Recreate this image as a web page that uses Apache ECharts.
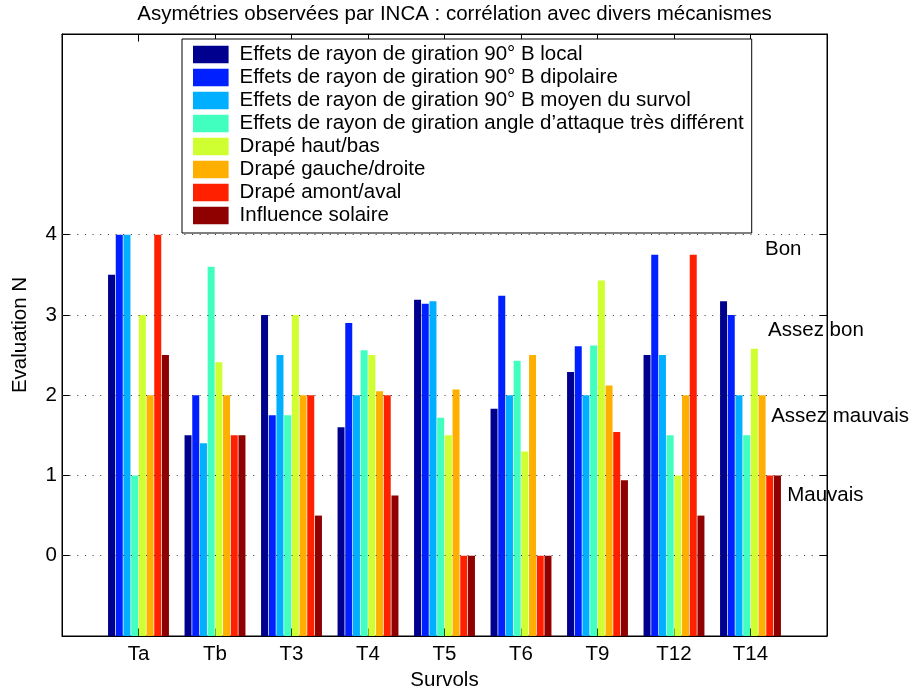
<!DOCTYPE html>
<html>
<head>
<meta charset="utf-8">
<script src="https://cdn.jsdelivr.net/npm/echarts@6/dist/echarts.min.js"></script>
<style>html,body{margin:0;padding:0;background:#fff}#c{width:909px;height:689px}</style>
</head>
<body>
<div id="c"></div>
<script>
const categories = ['Ta', 'Tb', 'T3', 'T4', 'T5', 'T6', 'T9', 'T12', 'T14'];
const seriesNames = [
  'Effets de rayon de giration 90° B local',
  'Effets de rayon de giration 90° B dipolaire',
  'Effets de rayon de giration 90° B moyen du survol',
  'Effets de rayon de giration angle d\u2019attaque très différent',
  'Drapé haut/bas',
  'Drapé gauche/droite',
  'Drapé amont/aval',
  'Influence solaire'
];
const localB       = [3.5, 1.5, 3.0, 1.6, 3.19, 1.83, 2.29, 2.5, 3.17];
const dipolaire    = [4.0, 2.0, 1.75, 2.9, 3.14, 3.24, 2.61, 3.75, 3.0];
const moyenSurvol  = [4.0, 1.4, 2.5, 2.0, 3.17, 2.0, 2.0, 2.5, 2.0];
const angleAttaque = [1.0, 3.6, 1.75, 2.56, 1.72, 2.43, 2.62, 1.5, 1.5];
const hautBas      = [3.0, 2.41, 3.0, 2.5, 1.5, 1.3, 3.43, 1.0, 2.58];
const gaucheDroite = [2.0, 2.0, 2.0, 2.05, 2.07, 2.5, 2.12, 2.0, 2.0];
const amontAval    = [4.0, 1.5, 2.0, 2.0, 0, 0, 1.54, 3.75, 1.0];
const solaire      = [2.5, 1.5, 0.5, 0.75, 0, 0, 0.94, 0.5, 1.0];
const allValues = [localB, dipolaire, moyenSurvol, angleAttaque, hautBas, gaucheDroite, amontAval, solaire];
const colors = ['#00008F', '#0020FF', '#00AFFF', '#40FFBF', '#CFFF30', '#FFAF00', '#FF2000', '#8F0000'];
const yTicks = [0, 1, 2, 3, 4];
const qualityLabels = ['Bon', 'Assez bon', 'Assez mauvais', 'Mauvais'];
const qualityX = [9.19, 9.23, 9.27, 9.48];
const qualityY = [3.82, 2.81, 1.74, 0.75];

const FONT = 'Liberation Sans, Arial, Helvetica, sans-serif';
const FS = 20.5;
const xPositions = categories.map((c, i) => i + 1);

const chart = echarts.init(document.getElementById('c'), null, {renderer: 'canvas'});

const barSeries = allValues.map((vals, k) => ({
  name: seriesNames[k],
  type: 'bar',
  xAxisIndex: 0,
  yAxisIndex: 0,
  data: vals.map((v, i) => [xPositions[i], v]),
  barWidth: 7,
  barGap: '10%',
  itemStyle: {color: colors[k]},
  z: 3,
  silent: true
}));

const option = {
  animation: false,
  backgroundColor: '#fff',
  textStyle: {fontFamily: FONT},
  title: {
    text: 'Asymétries observées par INCA : corrélation avec divers mécanismes',
    left: 'center',
    top: 4,
    padding: 0,
    textStyle: {fontSize: FS, fontWeight: 'normal', color: '#000', fontFamily: FONT}
  },
  grid: {left: 62, right: 82, top: 34, bottom: 53, containLabel: false, outerBoundsMode: 'none',
         show: true, borderColor: '#000', borderWidth: 1, backgroundColor: '#fff'},
  legend: {
    data: seriesNames,
    orient: 'vertical',
    left: 182,
    top: 39,
    padding: [5, 8, 7, 11],
    itemWidth: 35.6,
    itemHeight: 17.7,
    itemGap: 2,
    icon: 'rect',
    selectedMode: false,
    backgroundColor: '#fff',
    borderColor: '#000',
    borderWidth: 1,
    z: 10,
    textStyle: {fontSize: FS, lineHeight: 21, color: '#000', fontFamily: FONT, padding: [0, 0, 0, 6]}
  },
  xAxis: [{
    type: 'value', position: 'bottom', min: 0, max: 10, interval: 1,
    name: 'Survols', nameLocation: 'middle', nameGap: 32,
    nameTextStyle: {fontSize: FS, color: '#000', fontFamily: FONT},
    axisLine: {show: true, onZero: false, lineStyle: {color: '#000', width: 1}},
    axisTick: {show: true, inside: true, length: 7.6, customValues: xPositions, lineStyle: {color: '#000'}},
    axisLabel: {show: true, customValues: xPositions, margin: 8, fontSize: FS, color: '#000', fontFamily: FONT,
      formatter: v => (v >= 1 && v <= categories.length && Number.isInteger(v)) ? categories[v - 1] : ''},
    splitLine: {show: false}
  }, {
    type: 'value', position: 'top', min: 0, max: 10, interval: 1,
    axisLine: {show: true, onZero: false, lineStyle: {color: '#000', width: 1}},
    axisTick: {show: true, inside: true, length: 7.6, customValues: xPositions, lineStyle: {color: '#000'}},
    axisLabel: {show: false},
    splitLine: {show: false}
  }],
  yAxis: [{
    type: 'value', position: 'left', min: -1, max: 6.5, interval: 1, startValue: -1,
    name: 'Evaluation N', nameLocation: 'middle', nameGap: 31,
    nameTextStyle: {fontSize: FS, color: '#000', fontFamily: FONT},
    axisLine: {show: true, onZero: false, lineStyle: {color: '#000', width: 1}},
    axisTick: {show: true, inside: true, length: 7.6, customValues: yTicks, lineStyle: {color: '#000'}},
    axisLabel: {show: true, customValues: yTicks, margin: 5, fontSize: FS, color: '#000', fontFamily: FONT,
      formatter: v => yTicks.indexOf(v) >= 0 ? String(v) : ''},
    splitLine: {show: false}
  }, {
    type: 'value', position: 'right', min: -1, max: 6.5, interval: 1,
    axisLine: {show: true, onZero: false, lineStyle: {color: '#000', width: 1}},
    axisTick: {show: true, inside: true, length: 7.6, customValues: yTicks, lineStyle: {color: '#000'}},
    axisLabel: {show: false},
    splitLine: {show: false}
  }],
  series: [{
    type: 'line',
    name: '_grid',
    xAxisIndex: 0, yAxisIndex: 0,
    data: [],
    z: 1,
    silent: true,
    markLine: {
      silent: true,
      animation: false,
      symbol: ['none', 'none'],
      label: {show: false},
      lineStyle: {type: [1, 6.65], color: '#333', width: 1},
      data: yTicks.map(v => ({yAxis: v}))
    }
  }].concat(barSeries).concat([{
    type: 'scatter',
    name: '_labels',
    xAxisIndex: 0, yAxisIndex: 0,
    symbolSize: 0,
    silent: true,
    z: 4,
    itemStyle: {opacity: 1},
    data: qualityLabels.map((t, i) => [qualityX[i], qualityY[i], t]),
    label: {show: true, position: 'right', distance: 0, fontSize: FS, color: '#000', opacity: 1, fontFamily: FONT,
      formatter: p => p.data[2]}
  }])
};
chart.setOption(option);
</script>
</body>
</html>
